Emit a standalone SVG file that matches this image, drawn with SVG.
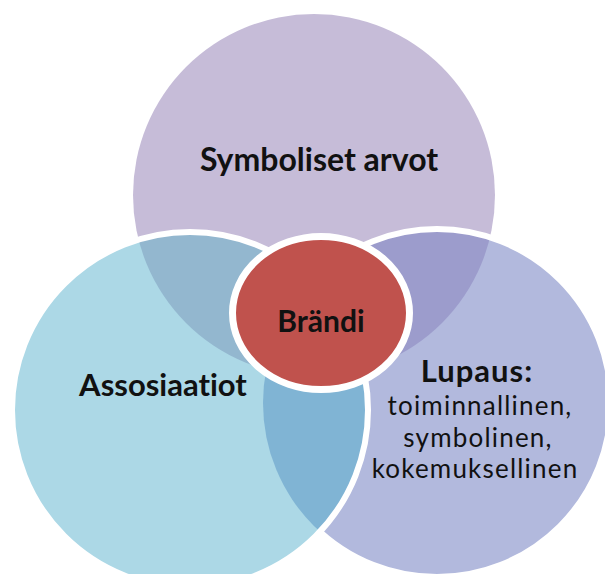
<svg xmlns="http://www.w3.org/2000/svg" width="605" height="574" viewBox="0 0 605 574">
  <style>
    .lbl { font-family: Lato, "Liberation Sans", sans-serif; fill: #111; text-anchor: middle; font-variant-ligatures: none; }
    .b { font-weight: bold; }
    .sub { font-size: 26px; letter-spacing: 1.2px; }
    .rim { fill: none; stroke: #fff; stroke-width: 6; }
  </style>
  <defs>
    <clipPath id="inRight"><circle cx="437" cy="403" r="174"/></clipPath>
    <clipPath id="inLeft"><circle cx="190" cy="410" r="178"/></clipPath>
  </defs>

  <!-- top circle -->
  <g id="symboliset-arvot">
    <circle cx="314" cy="195" r="181" fill="#c6bcd8"/>
  </g>

  <!-- right circle with its overlap on the top circle -->
  <g id="lupaus">
    <circle cx="437" cy="403" r="174" fill="#b2b9dd"/>
    <circle cx="314" cy="195" r="181" fill="#9c9ccc" clip-path="url(#inRight)"/>
    <circle class="rim" cx="437" cy="403" r="174"/>
  </g>

  <!-- left circle with its overlaps -->
  <g id="assosiaatiot">
    <circle cx="190" cy="410" r="178" fill="#acd8e6"/>
    <circle cx="314" cy="195" r="181" fill="#93b7cf" clip-path="url(#inLeft)"/>
    <circle cx="437" cy="403" r="174" fill="#80b4d4" clip-path="url(#inLeft)"/>
    <circle class="rim" cx="190" cy="410" r="178"/>
  </g>

  <!-- centre -->
  <g id="brandi">
    <ellipse cx="321" cy="313" rx="88.5" ry="76.5" fill="#c0524d" stroke="#fff" stroke-width="7"/>
  </g>

  <g id="labels">
    <text class="lbl b" x="319" y="171" font-size="32">Symboliset arvot</text>
    <text class="lbl b" x="163" y="396" font-size="31">Assosiaatiot</text>
    <text class="lbl b" x="321" y="332" font-size="30">Brändi</text>
    <text class="lbl b" x="477" y="382" font-size="31" letter-spacing="1">Lupaus:</text>
    <text class="lbl sub" x="480" y="415">toiminnallinen,</text>
    <text class="lbl sub" x="478" y="446.5">symbolinen,</text>
    <text class="lbl sub" x="475" y="478">kokemuksellinen</text>
  </g>
</svg>
